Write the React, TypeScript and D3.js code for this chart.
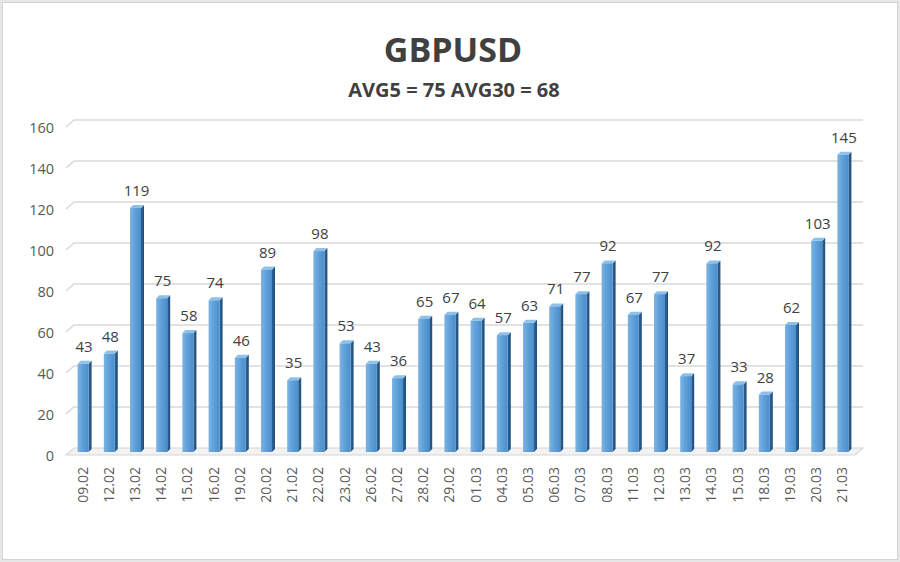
import React from "react";
import * as d3 from "d3";

const categories = ["09.02","12.02","13.02","14.02","15.02","16.02","19.02","20.02","21.02","22.02","23.02","26.02","27.02","28.02","29.02","01.03","04.03","05.03","06.03","07.03","08.03","11.03","12.03","13.03","14.03","15.03","18.03","19.03","20.03","21.03"];
const values = [43,48,119,75,58,74,46,89,35,98,53,43,36,65,67,64,57,63,71,77,92,67,77,37,92,33,28,62,103,145];
const yTicks = [0,20,40,60,80,100,120,140,160];
const title = "GBPUSD";
const subtitle = "AVG5 = 75 AVG30 = 68";

const W = 900, H = 562;
const FONT = "'Open Sans', 'Noto Sans', sans-serif";

export default function App() {
  const x = d3.scaleBand<string>().domain(categories).range([70, 856]).paddingInner(0).paddingOuter(0);
  const yFront = d3.scaleLinear().domain([0, 160]).range([452, 124]);
  const yBack = d3.scaleLinear().domain([0, 160]).range([448, 120]);
  const depth = 3;
  const fw = 11;

  return (
    <svg width={W} height={H} style={{ position: "absolute", left: 0, top: 0 }} xmlns="http://www.w3.org/2000/svg">
      <defs>
        <linearGradient id="front" x1="0" x2="1" y1="0" y2="0">
          <stop offset="0" stopColor="#7db3e3" />
          <stop offset="0.5" stopColor="#5d9fd8" />
          <stop offset="1" stopColor="#4c8dcb" />
        </linearGradient>
        <linearGradient id="side" x1="0" x2="1" y1="0" y2="0">
          <stop offset="0" stopColor="#2d6396" />
          <stop offset="1" stopColor="#1f4e7a" />
        </linearGradient>
      </defs>
      <rect x={0} y={0} width={W} height={H} fill="#e6e6e6" />
      <rect x={2.5} y={2.5} width={W - 5} height={H - 5} fill="#ffffff" stroke="#d4d4d4" strokeWidth={1} />

      <text x={453} y={62} textAnchor="middle" fontFamily={FONT} fontWeight={700} fontSize={34} fill="#404040">{title}</text>
      <text x={454} y={97} textAnchor="middle" fontFamily={FONT} fontWeight={700} fontSize={20} fill="#404040">{subtitle}</text>

      {yTicks.map((t) => (
        <g key={t}>
          {t !== 0 && (
            <polyline
              points={`66,${yBack(t) + 7} 74,${yBack(t)} 863,${yBack(t)}`}
              fill="none"
              stroke="#d9d9d9"
              strokeWidth={1.5}
            />
          )}
          <text x={54} y={yBack(t) + 7} textAnchor="end" dominantBaseline="central" fontFamily={FONT} fontSize={14.5} fill="#595959">{t}</text>
        </g>
      ))}
      <polygon
        points={`66,${yBack(0) + 7} 74,${yBack(0)} 863,${yBack(0)} 855,${yBack(0) + 7}`}
        fill="#f2f2f2"
        stroke="#d6d6d6"
        strokeWidth={1.2}
      />

      {categories.map((c, i) => {
        const v = values[i];
        const cx = (x(c) as number) + x.bandwidth() / 2;
        const x0 = cx - fw / 2;
        const x1 = cx + fw / 2;
        const top = yFront(v);
        const bot = yFront(0);
        return (
          <g key={c}>
            <polygon points={`${x1},${bot} ${x1 + depth},${bot - depth} ${x1 + depth},${top - depth} ${x1},${top}`} fill="url(#side)" />
            <polygon points={`${x0},${top} ${x1},${top} ${x1 + depth},${top - depth} ${x0 + depth},${top - depth}`} fill="#8ec0ea" />
            <rect x={x0} y={top} width={fw} height={bot - top} fill="url(#front)" />
            <text x={cx + 1} y={top - 12} textAnchor="middle" fontFamily={FONT} fontSize={15} fill="#404040">{v}</text>
            <text
              transform={`translate(${cx - 1},${467}) rotate(-90)`}
              textAnchor="end"
              dominantBaseline="central"
              fontFamily={FONT}
              fontSize={14}
              fill="#595959"
            >{c}</text>
          </g>
        );
      })}
    </svg>
  );
}
